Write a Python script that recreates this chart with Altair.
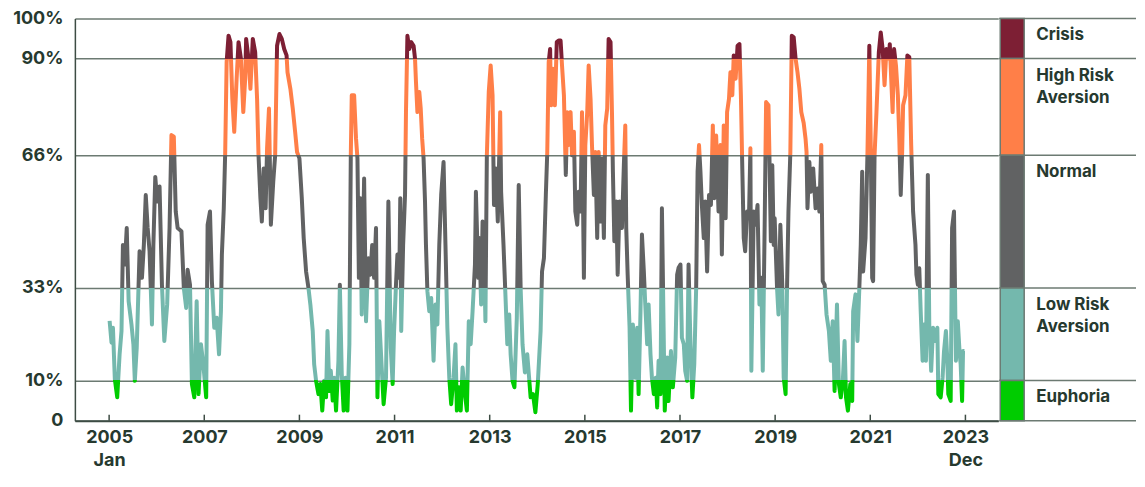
import altair as alt
import pandas as pd

# ---- series (position on the time axis in years, risk-aversion percentile) ----
year_pos = [
    2005.01, 2005.05, 2005.08, 2005.12, 2005.17, 2005.22, 2005.26, 2005.29, 2005.33, 2005.37,
    2005.41, 2005.47, 2005.51, 2005.54, 2005.58, 2005.64, 2005.69, 2005.73, 2005.77, 2005.81,
    2005.85, 2005.90, 2005.93, 2005.97, 2006.01, 2006.06, 2006.11, 2006.16, 2006.22, 2006.27,
    2006.31, 2006.36, 2006.40, 2006.44, 2006.52, 2006.57, 2006.62, 2006.65, 2006.70, 2006.74,
    2006.79, 2006.84, 2006.88, 2006.93, 2006.98, 2007.04, 2007.07, 2007.12, 2007.16, 2007.21,
    2007.26, 2007.31, 2007.35, 2007.37, 2007.41, 2007.44, 2007.47, 2007.51, 2007.55, 2007.59,
    2007.63, 2007.68, 2007.72, 2007.77, 2007.82, 2007.86, 2007.88, 2007.93, 2007.97, 2008.02,
    2008.07, 2008.11, 2008.14, 2008.18, 2008.21, 2008.25, 2008.29, 2008.32, 2008.36, 2008.40,
    2008.45, 2008.49, 2008.53, 2008.58, 2008.63, 2008.68, 2008.73, 2008.75, 2008.81, 2008.86,
    2008.91, 2008.95, 2009.00, 2009.05, 2009.09, 2009.14, 2009.19, 2009.23, 2009.28, 2009.31,
    2009.35, 2009.40, 2009.44, 2009.48, 2009.52, 2009.56, 2009.59, 2009.63, 2009.66, 2009.70,
    2009.73, 2009.77, 2009.82, 2009.85, 2009.89, 2009.93, 2009.97, 2010.01, 2010.05, 2010.08,
    2010.10, 2010.15, 2010.19, 2010.22, 2010.25, 2010.28, 2010.31, 2010.36, 2010.40, 2010.45,
    2010.49, 2010.53, 2010.57, 2010.61, 2010.64, 2010.68, 2010.73, 2010.77, 2010.82, 2010.87,
    2010.92, 2010.96, 2010.99, 2011.03, 2011.06, 2011.10, 2011.12, 2011.14, 2011.18, 2011.22,
    2011.24, 2011.27, 2011.31, 2011.35, 2011.40, 2011.43, 2011.45, 2011.48, 2011.52, 2011.55,
    2011.58, 2011.61, 2011.64, 2011.66, 2011.69, 2011.73, 2011.77, 2011.82, 2011.86, 2011.90,
    2011.94, 2011.98, 2012.03, 2012.07, 2012.11, 2012.15, 2012.19, 2012.24, 2012.28, 2012.31,
    2012.35, 2012.39, 2012.43, 2012.48, 2012.52, 2012.56, 2012.60, 2012.64, 2012.69, 2012.71,
    2012.76, 2012.78, 2012.82, 2012.85, 2012.88, 2012.91, 2012.94, 2012.98, 2013.02, 2013.06,
    2013.09, 2013.13, 2013.17, 2013.22, 2013.24, 2013.29, 2013.33, 2013.37, 2013.41, 2013.44,
    2013.48, 2013.52, 2013.57, 2013.61, 2013.65, 2013.69, 2013.74, 2013.79, 2013.86, 2013.91,
    2013.96, 2014.01, 2014.07, 2014.10, 2014.14, 2014.18, 2014.21, 2014.24, 2014.27, 2014.29,
    2014.33, 2014.37, 2014.41, 2014.45, 2014.49, 2014.52, 2014.56, 2014.60, 2014.63, 2014.66,
    2014.70, 2014.73, 2014.77, 2014.80, 2014.84, 2014.87, 2014.91, 2014.94, 2014.98, 2015.01,
    2015.05, 2015.08, 2015.12, 2015.15, 2015.19, 2015.22, 2015.26, 2015.29, 2015.33, 2015.36,
    2015.40, 2015.43, 2015.47, 2015.50, 2015.54, 2015.57, 2015.59, 2015.62, 2015.66, 2015.69,
    2015.73, 2015.78, 2015.82, 2015.85, 2015.87, 2015.90, 2015.94, 2015.97, 2016.01, 2016.06,
    2016.10, 2016.13, 2016.17, 2016.20, 2016.24, 2016.27, 2016.31, 2016.34, 2016.38, 2016.41,
    2016.45, 2016.49, 2016.52, 2016.55, 2016.59, 2016.62, 2016.68, 2016.73, 2016.76, 2016.81,
    2016.85, 2016.90, 2016.94, 2016.97, 2017.01, 2017.04, 2017.08, 2017.11, 2017.15, 2017.18,
    2017.22, 2017.26, 2017.30, 2017.34, 2017.37, 2017.40, 2017.43, 2017.46, 2017.50, 2017.53,
    2017.57, 2017.61, 2017.65, 2017.69, 2017.72, 2017.76, 2017.81, 2017.85, 2017.88, 2017.92,
    2017.96, 2017.99, 2018.03, 2018.06, 2018.10, 2018.13, 2018.17, 2018.21, 2018.25, 2018.28,
    2018.31, 2018.34, 2018.37, 2018.41, 2018.45, 2018.48, 2018.50, 2018.55, 2018.59, 2018.63,
    2018.67, 2018.71, 2018.74, 2018.78, 2018.81, 2018.86, 2018.88, 2018.91, 2018.94, 2018.97,
    2018.99, 2019.04, 2019.07, 2019.11, 2019.15, 2019.18, 2019.22, 2019.25, 2019.28, 2019.32,
    2019.35, 2019.39, 2019.43, 2019.47, 2019.51, 2019.55, 2019.60, 2019.64, 2019.66, 2019.68,
    2019.72, 2019.75, 2019.80, 2019.85, 2019.89, 2019.93, 2019.97, 2020.00, 2020.04, 2020.08,
    2020.13, 2020.17, 2020.21, 2020.25, 2020.30, 2020.34, 2020.38, 2020.42, 2020.46, 2020.49,
    2020.53, 2020.58, 2020.62, 2020.64, 2020.69, 2020.73, 2020.77, 2020.80, 2020.83, 2020.85,
    2020.90, 2020.94, 2020.98, 2021.01, 2021.04, 2021.06, 2021.09, 2021.13, 2021.18, 2021.22,
    2021.26, 2021.30, 2021.34, 2021.39, 2021.41, 2021.44, 2021.47, 2021.50, 2021.54, 2021.58,
    2021.61, 2021.64, 2021.67, 2021.69, 2021.74, 2021.78, 2021.82, 2021.86, 2021.90, 2021.95,
    2021.97, 2022.00, 2022.03, 2022.06, 2022.10, 2022.13, 2022.17, 2022.21, 2022.24, 2022.28,
    2022.32, 2022.36, 2022.41, 2022.43, 2022.48, 2022.52, 2022.55, 2022.59, 2022.62, 2022.64,
    2022.69, 2022.72, 2022.76, 2022.80, 2022.84, 2022.88, 2022.90, 2022.93, 2022.95, 2022.98,
]
risk_pct = [
    24.8, 19.4, 23.1, 10.3, 5.8, 16.5, 22.3, 43.7, 38.8, 47.9,
    29.7, 23.9, 19.0, 9.9, 18.1, 42.1, 35.5, 43.7, 56.1, 47.9,
    42.1, 23.9, 43.7, 60.6, 54.5, 58.2, 33.8, 19.8, 28.9, 47.9,
    71.0, 70.6, 52.0, 47.9, 47.1, 33.0, 28.0, 37.5, 33.8, 9.1,
    5.8, 29.7, 6.6, 19.0, 14.0, 5.8, 48.7, 52.0, 34.7, 23.1,
    25.6, 16.5, 27.2, 41.3, 52.8, 66.8, 89.1, 95.7, 94.1, 80.0,
    71.8, 85.0, 94.1, 90.0, 76.7, 85.0, 94.9, 90.0, 82.5, 94.9,
    91.6, 80.0, 66.0, 55.3, 49.5, 62.7, 52.8, 67.7, 77.6, 48.7,
    59.4, 66.0, 93.2, 96.1, 94.9, 92.4, 90.8, 86.6, 82.5, 77.6,
    71.8, 66.8, 65.2, 55.3, 45.4, 37.1, 33.0, 28.9, 22.3, 14.0,
    9.9, 6.6, 9.1, 2.5, 9.9, 5.8, 22.3, 7.4, 12.4, 5.0,
    10.7, 2.5, 14.9, 33.8, 11.6, 2.5, 10.7, 2.5, 19.0, 66.0,
    80.9, 80.9, 70.1, 65.2, 35.5, 55.3, 26.4, 60.2, 24.7, 40.4,
    36.3, 43.7, 35.5, 47.9, 5.8, 24.7, 13.2, 4.1, 10.7, 54.5,
    18.1, 9.1, 22.3, 33.8, 41.3, 35.5, 55.3, 22.3, 43.7, 56.1,
    76.7, 95.7, 92.4, 94.1, 93.2, 90.0, 84.2, 76.7, 81.7, 77.6,
    70.1, 65.2, 54.5, 43.7, 32.2, 27.2, 30.5, 14.9, 28.9, 23.9,
    43.7, 56.1, 64.3, 43.7, 23.1, 10.7, 4.1, 10.7, 19.0, 2.5,
    8.3, 2.5, 13.2, 6.6, 2.5, 24.7, 19.0, 27.2, 38.8, 56.9,
    35.5, 45.4, 28.9, 49.5, 42.1, 24.7, 66.0, 81.7, 88.3, 80.9,
    53.6, 62.7, 49.5, 76.7, 56.9, 43.7, 31.4, 19.0, 26.4, 16.5,
    9.9, 8.3, 25.6, 58.6, 33.0, 19.0, 12.0, 16.5, 5.8, 6.6,
    2.1, 9.1, 22.3, 37.1, 40.4, 56.1, 66.8, 89.1, 92.4, 78.4,
    87.5, 78.4, 94.1, 94.5, 94.5, 88.3, 80.9, 61.1, 76.7, 68.5,
    76.7, 66.0, 71.8, 52.0, 48.7, 56.9, 52.0, 76.7, 35.5, 68.5,
    76.7, 88.3, 80.0, 68.5, 56.1, 66.8, 45.4, 66.8, 49.5, 65.2,
    45.4, 73.4, 77.6, 94.9, 94.1, 76.7, 61.9, 44.6, 54.5, 36.3,
    54.5, 47.9, 63.5, 73.4, 47.9, 36.3, 23.1, 2.5, 23.9, 10.7,
    23.1, 6.6, 27.2, 46.3, 37.1, 28.9, 19.0, 28.9, 16.5, 10.7,
    6.6, 10.7, 3.3, 14.9, 6.6, 52.8, 2.5, 15.7, 4.9, 17.3,
    8.3, 15.7, 36.3, 38.0, 38.8, 20.6, 19.0, 12.4, 9.9, 38.8,
    19.0, 5.8, 14.0, 33.0, 61.9, 68.5, 61.9, 53.6, 45.4, 54.5,
    37.1, 56.1, 53.6, 73.4, 55.3, 70.9, 52.0, 68.5, 41.3, 73.4,
    50.3, 76.7, 80.0, 86.6, 80.9, 90.8, 85.0, 93.2, 93.6, 80.9,
    62.7, 45.4, 42.1, 52.0, 50.3, 67.7, 12.4, 52.0, 48.7, 53.6,
    28.9, 35.5, 12.4, 48.7, 79.2, 78.4, 66.0, 44.6, 63.5, 43.7,
    50.3, 33.0, 26.4, 48.7, 33.8, 10.7, 6.6, 33.0, 52.0, 66.8,
    95.7, 95.3, 90.0, 86.6, 82.5, 76.7, 74.0, 70.0, 66.8, 52.8,
    64.3, 56.9, 62.7, 52.8, 57.7, 52.0, 68.5, 34.7, 33.8, 26.4,
    22.3, 14.9, 24.7, 7.4, 28.9, 9.1, 5.8, 9.1, 19.8, 5.8,
    2.5, 9.1, 4.9, 27.2, 31.4, 19.8, 33.0, 43.7, 61.9, 37.1,
    45.4, 66.0, 93.2, 68.5, 35.5, 34.7, 66.0, 76.7, 91.6, 96.5,
    92.4, 83.4, 92.4, 90.0, 93.6, 85.0, 76.7, 92.4, 88.3, 80.9,
    70.1, 56.1, 66.8, 78.4, 80.9, 90.8, 90.4, 68.5, 52.0, 43.7,
    36.3, 33.8, 37.9, 27.2, 14.9, 23.9, 14.9, 61.1, 23.9, 12.4,
    23.1, 19.8, 23.1, 6.6, 5.8, 10.7, 17.3, 22.3, 14.9, 6.6,
    4.9, 47.9, 52.0, 14.9, 24.7, 16.5, 14.0, 4.9, 17.3, 17.3,
]

tick_years = [2005, 2007, 2009, 2011, 2013, 2015, 2017, 2019, 2021, 2023]
y_ticks = [0, 10, 33, 66, 90, 100]

band_names = ["Crisis", "High Risk\nAversion", "Normal", "Low Risk\nAversion", "Euphoria"]
band_lo = [90, 66, 33, 10, 0]
band_hi = [100, 90, 66, 33, 10]
band_colors = ["#7d1f34", "#ff7f48", "#616263", "#74b8ad", "#00cc00"]

FONT = "Inter"
TEXT = "#26392f"
GRID = "#6c7a72"
DOMAIN = "#3d4c44"

W, H = 925, 403
SW = 137

df = pd.DataFrame({"t": year_pos, "v": risk_pct})

# gradient stroke: colour changes exactly at the band thresholds
vmin, vmax = min(risk_pct), max(risk_pct)


def off(th):
    return min(1.0, max(0.0, (th - vmin) / (vmax - vmin)))


stops = []
for lo, hi, c in sorted(zip(band_lo, band_hi, band_colors)):
    stops.append(alt.GradientStop(offset=off(lo), color=c))
    stops.append(alt.GradientStop(offset=off(hi), color=c))

grad = alt.Gradient(gradient="linear", stops=stops, x1=0, x2=0, y1=1, y2=0)

yscale = alt.Scale(domain=[0, 100], nice=False, zero=True)

x_enc = alt.X(
    "t:Q",
    title=None,
    scale=alt.Scale(domain=[2004.28, 2023.69], nice=False, zero=False),
    axis=alt.Axis(
        values=tick_years,
        format="d",
        labelExpr="datum.value == 2005 ? ['2005', 'Jan'] : datum.value == 2023 ? ['2023', 'Dec'] : datum.label",
        ticks=False,
        grid=False,
        domainColor=DOMAIN,
        domainWidth=2,
        labelFont=FONT,
        labelFontSize=18,
        labelFontWeight="bold",
        labelColor=TEXT,
        labelPadding=8,
        labelLineHeight=23,
        labelFlush=False,
    ),
)

y_enc = alt.Y(
    "v:Q",
    title=None,
    scale=yscale,
    axis=alt.Axis(
        values=y_ticks,
        labelExpr="datum.value == 0 ? '0' : datum.value + '%'",
        ticks=False,
        grid=True,
        gridColor=GRID,
        gridWidth=1.5,
        domainColor=DOMAIN,
        domainWidth=1.5,
        labelFont=FONT,
        labelFontSize=18,
        labelFontWeight="bold",
        labelColor=TEXT,
        labelPadding=12,
        minExtent=67,
        maxExtent=67,
    ),
)

line = alt.Chart(df).mark_line(
    stroke=grad, strokeWidth=4, strokeJoin="round"
).encode(x=x_enc, y=y_enc)

ticks = alt.Chart(pd.DataFrame({"t": tick_years})).mark_rule(
    color=DOMAIN, strokeWidth=1.5
).encode(x=alt.X("t:Q"), y=alt.value(H - 6), y2=alt.value(H))

main = alt.layer(line, ticks).properties(width=W, height=H)

# ---- right-hand colour key ----
bands_df = pd.DataFrame(
    {"name": band_names, "lo": band_lo, "hi": band_hi, "color": band_colors}
)

side_grid = alt.Chart(pd.DataFrame({"v": y_ticks})).mark_rule(
    color=GRID, strokeWidth=1.5
).encode(
    y=alt.Y("v:Q", scale=yscale, axis=None),
    x=alt.value(0),
    x2=alt.value(SW),
)

side_rect = alt.Chart(bands_df).mark_rect(stroke=GRID, strokeWidth=1.5).encode(
    y=alt.Y("lo:Q", scale=yscale, axis=None),
    y2="hi:Q",
    x=alt.value(1),
    x2=alt.value(25),
    color=alt.Color("color:N", scale=None),
)

side_text = alt.Chart(bands_df).mark_text(
    align="left",
    baseline="alphabetic",
    dy=22,
    lineBreak="\n",
    lineHeight=22,
    font=FONT,
    fontSize=17,
    fontWeight="bold",
    color=TEXT,
).encode(
    y=alt.Y("hi:Q", scale=yscale, axis=None),
    x=alt.value(37),
    text="name:N",
)

side = alt.layer(side_grid, side_rect, side_text).properties(width=SW, height=H)

chart = (
    alt.hconcat(main, side, spacing=0)
    .properties(padding={"left": 0, "top": 1, "right": 0, "bottom": 0})
    .configure_view(stroke=None)
)

chart.save("out.html", embed_options={"renderer": "svg", "actions": False})
